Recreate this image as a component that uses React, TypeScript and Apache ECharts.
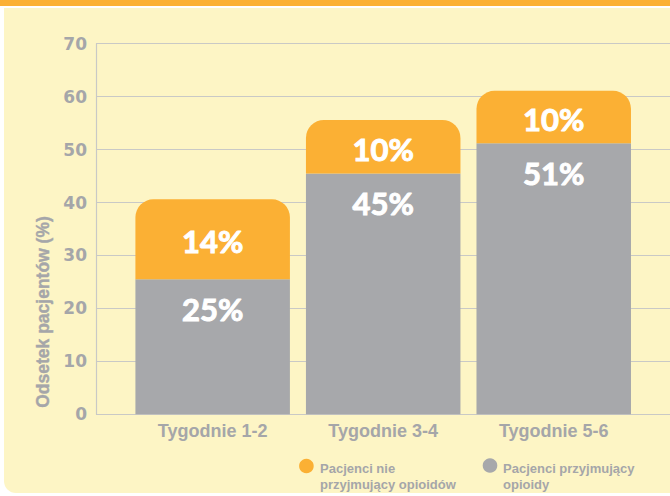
import React, { useEffect, useRef } from "react";
import * as echarts from "echarts";

const categories = ["Tygodnie 1-2", "Tygodnie 3-4", "Tygodnie 5-6"];
const opioidValues = [25.5, 45.5, 51.2];
const nonOpioidValues = [15.1, 10.1, 9.9];
const opioidLabels = ["25%", "45%", "51%"];
const nonOpioidLabels = ["14%", "10%", "10%"];
const legendNames = ["Pacjenci nie\nprzyjmujący opioidów", "Pacjenci przyjmujący\nopioidy"];
const yTitle = "Odsetek pacjentów (%)";

const ORANGE = "#FBB034";
const GRAY = "#A7A8AB";
const TEXT = "#A5A6A9";
const BG = "#FDF5C5";
const GRID = "#C9C9C6";

export default function App() {
  const ref = useRef<HTMLDivElement>(null);
  useEffect(() => {
    const chart = echarts.init(ref.current!, null, { renderer: "svg" });
    const top = 43.7;
    const bottom = 496 - 414.3;
    const pctLabel = {
      color: "#ffffff",
      fontSize: 31,
      fontWeight: "bold",
      fontFamily: "Lato, sans-serif",
      textBorderColor: "#ffffff",
      textBorderWidth: 1,
    };
    chart.setOption({
      animation: false,
      backgroundColor: "#ffffff",
      graphic: [
        { type: "rect", z: -10, shape: { x: 0, y: 0, width: 670, height: 6 }, style: { fill: ORANGE } },
        { type: "rect", z: -10, shape: { x: 4, y: 8, width: 700, height: 485, r: [0, 0, 0, 12] }, style: { fill: BG } },
        {
          type: "text",
          x: 43,
          y: 312,
          rotation: Math.PI / 2,
          style: {
            text: yTitle,
            align: "center",
            verticalAlign: "middle",
            fill: TEXT,
            stroke: TEXT,
            lineWidth: 0.4,
            font: "bold 17.5px 'Liberation Sans', Arial, sans-serif",
          },
        },
        { type: "circle", shape: { cx: 306.4, cy: 466, r: 7.3 }, style: { fill: ORANGE } },
        {
          type: "text",
          x: 320,
          y: 460,
          style: {
            text: legendNames[0],
            fill: TEXT,
            font: "bold 13px 'Liberation Sans', Arial, sans-serif",
            lineHeight: 16,
            verticalAlign: "top",
          },
        },
        { type: "circle", shape: { cx: 490, cy: 465.5, r: 7.3 }, style: { fill: GRAY } },
        {
          type: "text",
          x: 503,
          y: 460,
          style: {
            text: legendNames[1],
            fill: TEXT,
            font: "bold 13px 'Liberation Sans', Arial, sans-serif",
            lineHeight: 16,
            verticalAlign: "top",
          },
        },
      ],
      grid: [
        { left: 96, right: 0, top, bottom },
        { left: 127.4, right: 31, top, bottom },
      ],
      xAxis: [
        { gridIndex: 0, type: "value", show: false, min: 0, max: 1 },
        {
          gridIndex: 1,
          type: "category",
          data: categories,
          axisLine: { show: false },
          axisTick: { show: false },
          axisLabel: {
            color: TEXT,
            fontSize: 18,
            fontWeight: "bold",
            fontFamily: "'Liberation Sans', Arial, sans-serif",
            margin: 8,
          },
        },
      ],
      yAxis: [
        {
          gridIndex: 0,
          type: "value",
          min: 0,
          max: 70,
          interval: 10,
          axisLine: { show: true, lineStyle: { color: GRID, width: 1.2 } },
          axisTick: { show: false },
          splitLine: { show: true, lineStyle: { color: GRID, width: 1 } },
          axisLabel: {
            color: TEXT,
            fontSize: 17,
            fontWeight: "bold",
            fontFamily: "'DejaVu Sans', sans-serif",
            margin: 9,
          },
        },
        { gridIndex: 1, type: "value", min: 0, max: 70, interval: 10, show: false, splitLine: { show: false } },
      ],
      series: [
        {
          name: legendNames[1],
          type: "bar",
          stack: "total",
          xAxisIndex: 1,
          yAxisIndex: 1,
          barWidth: "90.6%",
          data: opioidValues,
          itemStyle: { color: GRAY },
          label: {
            show: true,
            position: ["50%", 30],
            align: "center",
            verticalAlign: "middle",
            ...pctLabel,
            formatter: (p: any) => opioidLabels[p.dataIndex],
          },
        },
        {
          name: legendNames[0],
          type: "bar",
          stack: "total",
          xAxisIndex: 1,
          yAxisIndex: 1,
          barWidth: "90.6%",
          data: nonOpioidValues,
          itemStyle: { color: ORANGE, borderRadius: [18, 18, 0, 0] },
          label: {
            show: true,
            position: "inside",
            offset: [0, 2],
            ...pctLabel,
            formatter: (p: any) => nonOpioidLabels[p.dataIndex],
          },
        },
      ],
    });
    return () => chart.dispose();
  }, []);
  return (
    <div
      ref={ref}
      style={{ position: "fixed", left: 0, top: 0, width: 670, height: 496 }}
    />
  );
}
